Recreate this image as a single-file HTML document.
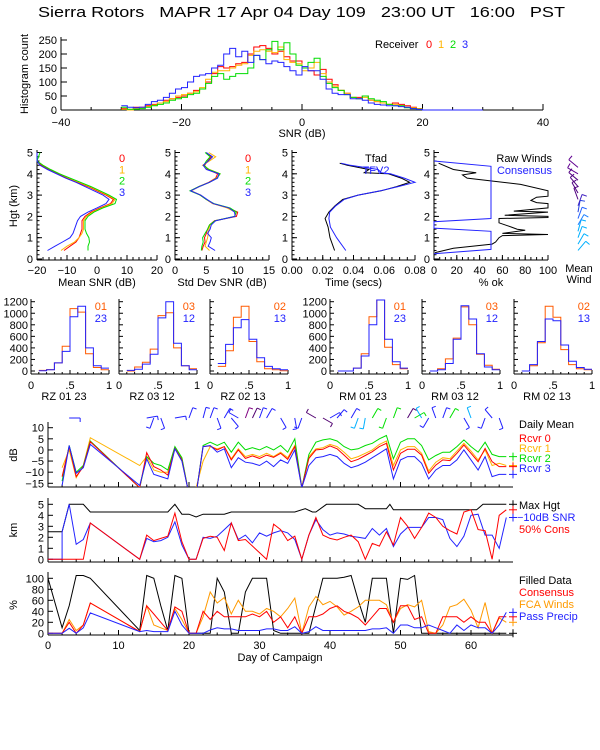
<!DOCTYPE html>
<html><head><meta charset="utf-8">
<style>
html,body{margin:0;padding:0;background:#fff;}
svg{display:block;font-family:"Liberation Sans",sans-serif;}
</style></head>
<body>
<svg id="chart" width="600" height="750" viewBox="0 0 600 750" xmlns="http://www.w3.org/2000/svg">
<rect x="0" y="0" width="600" height="750" fill="#fff"/>
<text x="38" y="17" font-size="15" style="white-space:pre" xml:space="preserve" textLength="527" lengthAdjust="spacingAndGlyphs" fill="#000">Sierra Rotors   MAPR 17 Apr 04 Day 109   23:00 UT   16:00   PST</text>
<defs>
<clipPath id="clipDb"><rect x="48" y="400" width="466" height="87"/></clipPath>
<clipPath id="clipKm"><rect x="48" y="495" width="466" height="68"/></clipPath>
<clipPath id="clipPct"><rect x="48" y="570" width="466" height="66"/></clipPath>
</defs>
</svg>
<script>
// ---------- DATA ----------
const snrBinStart = -30;
const histRed    = [5,0,10,10,15,20,25,35,40,45,50,60,70,75,100,130,155,150,155,165,170,200,225,230,220,200,210,190,175,175,150,140,125,145,110,90,70,60,45,45,50,35,30,25,20,25,20,15,10,5];
const histOrange = [3,0,5,8,12,18,25,30,40,50,55,60,65,80,110,135,140,140,150,160,165,195,210,215,210,205,225,180,170,165,140,150,170,130,100,85,70,60,45,40,45,35,30,25,20,20,15,10,8,5];
const histGreen  = [10,3,3,5,10,15,20,25,35,40,45,55,60,75,95,120,130,110,120,130,130,150,195,180,215,245,215,240,200,160,150,170,185,120,95,80,70,55,45,40,50,40,35,30,20,15,15,8,5,3];
const histBlue   = [15,10,8,10,20,30,35,45,60,75,80,100,120,125,130,150,160,200,220,190,210,170,195,180,165,175,170,155,140,125,155,140,140,110,75,60,55,55,40,40,35,25,20,18,15,15,12,10,5,2,0,0,0,0,0,0,0,0,0,0];

const profHgt = [0.4,0.6,0.8,1.0,1.2,1.4,1.6,1.8,2.0,2.2,2.4,2.6,2.8,3.0,3.2,3.4,3.6,3.8,4.0,4.2,4.4,4.6,4.8,5.0];
const snrRed    = [-11,-9,-7,-6,-5.5,-5,-5,-5,-4,-2,1,4.5,5.5,3,0,-3,-6.5,-10,-13,-16,-18.5,-20,-20,-20];
const snrOrange = [-12,-10,-7.5,-6,-5,-4.5,-4.5,-4.5,-3.5,-1.5,1.5,5,6,3.5,0.5,-2.5,-6,-9.5,-12.5,-15.5,-18,-20,-20,-20];
const snrGreen  = [-3,-3,-2.5,-2.7,-3.5,-4,-4,-4,-3,-1,2,6,6.5,4,1,-2,-5.5,-9,-12.5,-15.5,-18,-20,-19.5,-19];
const snrBlue   = [-16.5,-14,-11.5,-9,-8,-7.5,-7,-6.5,-5.5,-3,0,3,4,2,-1,-4,-7,-10.5,-13.5,-16.5,-19,-20,-20,-20];
const sdRed    = [4.3,4.5,4.8,4.7,5,5.2,5.5,6.3,9.8,10,8.5,6,5,4,2.5,3.8,5.4,6.5,6.8,5.2,4.7,5.2,5.8,5];
const sdOrange = [5.5,4.8,5,5.2,5.3,5.4,5.6,6.5,9.6,9.6,8.3,6,5,4.1,2.6,3.9,5.5,6.6,7.2,5.5,4.4,5.5,6.5,5.4];
const sdGreen  = [4.2,4.3,4.5,4.4,4.8,5.2,5.5,6.4,9.5,9.8,8.8,6.2,5,4,2.4,3.8,5.5,6.7,7.2,5.4,4.6,5,5.6,4.8];
const sdBlue   = [6.4,5.3,5.6,5.8,5.2,5.6,5.8,6.5,9.6,9.5,8.6,6.1,5.1,4.1,2.5,3.9,5.5,6.8,7,5,4.5,5.3,6,5];
const tfadHgt  = [0.4,1.0,1.5,1.9,2.2,2.5,2.8,3.0,3.2,3.4,3.6,3.8,4.0,4.05,4.2,4.4,4.5];
const tfadBlk  = [0.0277,0.0247,0.0235,0.0215,0.024,0.028,0.033,0.043,0.058,0.068,0.0765,0.071,0.0627,0.047,0.05,0.036,0.031];
const tfadBlue = [0.035,0.029,0.025,0.024,0.0245,0.0285,0.034,0.043,0.0575,0.069,0.08,0.073,0.064,0.058,0.056,0.038,0.032];
const rawHgt = [0.3,0.5,0.7,0.8,1.0,1.1,1.15,1.2,1.35,1.4,1.5,1.7,1.9,1.95,2.0,2.05,2.2,2.25,2.4,2.6,2.65,2.75,2.9,2.95,3.2,3.5,3.8,3.95,4.05,4.1,4.2,4.5];
const rawPct = [1,17,51,54,57,60,100,60,80,73,68,57,57,100,100,62,100,70,100,100,90,85,90,100,100,76,29,25,37,30,17,4];
const consHgt = [0.25,0.45,1.3,1.45,1.75,1.9,4.35,4.6];
const consPct = [0,50,50,0,0,50,50,0];

const momBins = [0.1,0.2,0.3,0.4,0.5,0.6,0.7,0.8,0.9];
const momPanels = ["RZ  01 23","RZ  03 12","RZ  02 13","RM  01 23","RM  03 12","RM  02 13"];
const momLegA = ["01","03","02","01","03","02"];
const momLegB = ["23","12","13","23","12","13"];
const momA = [
 [10,25,140,430,1080,1020,300,60,20],
 [0,70,150,380,960,1010,400,90,40],
 [80,350,930,1120,510,160,40,20,5],
 [0,0,50,300,940,1230,410,110,40],
 [0,40,210,570,1110,800,290,100,30],
 [0,90,490,1120,930,370,110,40,20]];
const momB = [
 [5,20,140,340,940,1120,400,90,50],
 [10,30,120,290,920,1200,480,90,20],
 [130,460,750,890,550,230,80,40,20],
 [0,0,50,260,800,1230,550,160,50],
 [0,20,130,550,1130,900,300,70,20],
 [0,110,510,900,870,450,170,60,30]];

const dbDays = [2,3,4,5,6,13,14,15,16,17,18,19,20,21,22,23,24,25,26,27,28,29,30,31,32,33,34,35,36,37,38,39,40,41,42,43,44,45,46,47,48,49,50,51,52,53,54,55,56,57,58,59,60,61,62,63,64,65];
const dbRed    = [-12,1.5,-12,-7.5,3.7,-17,-1.2,-7.5,-9,-11.3,0.7,-4.5,-20,-20,1.5,1.8,0,1.5,-4.5,0,-3.8,-2.7,-3.8,-2.3,-3.3,-1.5,-4.2,1.5,-17,-3.8,0,0.3,1.8,0.5,-2.3,-5.3,-4.2,-2.5,-0.8,1.5,3,-9,-1.5,0.3,0.3,-2.3,-10.5,-6.8,-4.5,-4.8,-1.5,2.2,-1.5,-5.3,0.7,-5.3,-7.5,-7.5];
const dbOrange = [-8,0,-12.5,-7,5.5,-7,-3,-9,-10,-10,1,-4,-20,-17,-5,1.5,0.5,1.5,-4,0.5,-3,-2,-3,-1.5,-3,-1,-3.5,2,-17,-3,0.5,1,2.5,1.5,-1,-4,-3,-1.5,0,2.5,4,-7,0,1.5,1.5,-1.5,-9.5,-5.5,-3.5,-4,-0.5,3,-0.5,-4.5,0,-7,-6,-7];
const dbGreen  = [-14,2,-10,-7,4,-17,-3,-6,-7,-9,1.5,-3.5,-20,-20,2,3.5,2,3.5,-1,3.5,0,1,0,1.5,0,2,-1,5,-17,-2,3.5,4.5,5,4,1.5,0,0.5,2,3,5,6.5,-4,3.5,5,5,2,-4.5,-2.5,-1,-1,1.5,4.5,1.5,-1,3.5,-2,-3,-3];
const dbBlue   = [-16,2,-10.5,-8,2.5,-16,-4,-11,-12,-13,0.5,-5,-20,-20,1.5,2,-1,0.5,-8,-3.5,-5.5,-6,-7,-5,-7.5,-4.5,-6,0,-17,-7,-3.5,-3,-2,-3,-6,-8,-7,-5.5,-3.5,-1.5,0.5,-13,-4.5,-3,-3,-6,-13,-9,-7,-7,-4.5,0,-4.5,-9,-3,-12,-11,-11];

const maxHgtDays = [0,2,3,5,6,17,18,19,20,21,22,25,26,35,36.5,37.5,38,39.5,44,45,48,48.5,49,60.8,61.7,65];
const maxHgtKm   = [2.5,2.5,5,5,4.3,4.3,5,4.1,4.1,3.85,4.1,4.1,4.3,4.3,4.6,4.3,4.3,5,5,4.6,4.6,5,4.5,4.5,5,5];
const snr10Days = [0,2,2,3,4,5,6,13,14,15,16,17,18,19,20,21,22,23,24,25,26,27,28,29,30,31,32,33,34,35,36,37,38,39,40,41,42,43,44,45,46,47,48,49,50,51,52,53,54,55,56,57,58,59,60,61,62,63,64,65];
const snr10Km   = [0,0,2.5,5,1.36,1.8,3.3,0,1.9,1.6,1.7,2,3.4,1.3,0,0,2,1.9,2.1,2.7,3.3,1.8,2.2,1.5,2.4,2.1,2.4,2.6,2.4,1.8,0,2.2,3.6,2.7,2.2,2.4,2.3,2.1,2,1.9,2.8,2.2,2.8,1.15,2.3,2.9,2.9,2.9,3.8,3.8,3.6,1.9,1.15,2.1,4.0,4.1,2.2,2.2,1,3.8];
const consDays = [0,5,6,13,14,15,16,17,18,19,20,21,22,23,24,25,26,27,28,31,32,33,34,35,36,37,38,39,40,41,42,43,44,45,46,47,48,49,50,51,52,53,54,55,56,57,58,59,60,61,62,63,64,65];
const consKm   = [0,0,3.3,0,2.2,1.7,1.9,2.1,4.2,1.6,0,0,1.9,2.1,2,0.8,3.3,1.7,1.8,0,3.2,2.7,1.7,2.1,0,2.2,3.8,2.2,1.9,1.75,2,2.2,1.6,0,1.45,1.2,2.5,1.3,3.8,3,1.9,2.9,4.2,3.8,3,2.6,2.3,4.3,4.5,2.7,2.6,0,4,4.5];

const pctDays = [0,2,3,4,5,6,13,14,15,16,17,18,19,20,21,22,23,24,25,26,27,28,29,30,31,32,33,34,35,36,37,38,39,40,41,42,43,44,45,46,47,48,49,50,51,52,53,54,55,56,57,58,59,60,61,62,63,64,65];
const pctFilled = [100,10,50,105,105,100,5,105,100,50,5,105,100,0,0,0,0,100,75,0,0,75,100,100,100,5,0,0,0,0,0,50,100,100,100,102,105,60,20,100,100,100,0,100,98,105,0,0,0,0,0,0,0,0,0,0,0,0,0];
const pctCons   = [0,0,20,0,15,55,3,50,35,20,5,48,40,0,0,40,25,40,30,30,30,30,35,30,40,20,30,10,30,0,30,30,35,45,50,40,35,28,15,30,45,45,20,50,50,25,30,0,0,30,30,30,20,30,20,20,0,30,30];
const pctFca    = [0,0,25,5,15,55,3,50,15,10,5,45,25,0,0,30,75,55,65,35,60,40,40,35,45,40,30,45,64,0,48,67,52,58,48,33,40,48,60,60,60,52,20,45,52,48,60,3,0,15,48,52,62,42,10,56,0,28,20];
const pctPrecip = [0,0,9,0,10,37,3,5,3,3,3,40,15,0,0,0,6,10,8,8,5,5,5,5,8,8,5,5,12,0,3,12,5,5,5,5,5,5,5,8,8,10,0,15,15,10,10,15,10,5,0,15,5,15,10,10,0,15,38];

const barbDays = [3,14,15,16,18,20,22,23,24,25,26,27,28,29,30,31,33,35,36,38,39,40,41,43,44,45,46,48,49,51,52,53,54,55,56,57,59,60,62,63,64];
const barbDir  = [90,80,200,160,80,20,15,20,160,30,140,300,20,25,20,30,150,170,200,300,120,60,40,30,200,190,30,200,20,30,60,330,210,340,20,30,150,340,200,320,160];
const barbCol  = ["#2020ff","#2020ff","#2020ff","#2020ff","#2020ff","#2020ff","#2020ff","#2020ff","#2020ff","#2020ff","#2020ff","#2020ff","#800080","#500070","#2020ff","#2020ff","#2020ff","#2020ff","#2020ff","#500070","#500070","#2020ff","#2020ff","#2020ff","#00b0ff","#00b0ff","#00e000","#00e000","#00e000","#500070","#00e000","#00b0ff","#2020ff","#2020ff","#2020ff","#00e000","#2020ff","#00b0ff","#2020ff","#2020ff","#2020ff"];
const mwHgt = [0.4,0.7,1.0,1.3,1.6,1.9,2.2,2.5,2.8,3.1,3.4,3.7,4.0,4.3];
const mwDir = [40,30,20,15,30,20,10,20,340,330,320,310,300,310];
const mwCol = ["#00b0ff","#00b0ff","#00b0ff","#00b0ff","#2080ff","#2060ff","#2040e0","#4020c0","#500080","#500080","#500080","#500080","#600090","#600090"];

// ---------- DRAWING ----------
const NS='http://www.w3.org/2000/svg';
const svg=document.getElementById('chart');
function mk(tag, attrs, parent){ const e=document.createElementNS(NS,tag); for(const k in attrs) e.setAttribute(k,attrs[k]); (parent||svg).appendChild(e); return e; }
function txt(x,y,s,color,anchor,size,name){
  const t=mk('text',{x:x,y:y,fill:color||'#000','text-anchor':anchor||'middle','font-size':size||11});
  t.textContent=s;
  
  
  return t;
}
function ln(x1,y1,x2,y2,color,name){
  const l=mk('line',{x1:x1,y1:y1,x2:x2,y2:y2,stroke:color||'#000','stroke-width':1});
  
  
  return l;
}
function poly(pts,color,name,clip){
  const p=mk('polyline',{points:pts.map(q=>q[0].toFixed(1)+','+q[1].toFixed(1)).join(' '),fill:'none',stroke:color,'stroke-width':1});
  if(clip) p.setAttribute('clip-path','url(#'+clip+')');
  
  
  return p;
}
function lin(d0,d1,p0,p1){ return v=>p0+(v-d0)*(p1-p0)/(d1-d0); }

(function(){
  const X=lin(-40,40,61,543), Y=lin(0,250,110,40);
  ln(61,37,61,110,'#000','hist-y-axis');
  ln(61,110,543,110,'#000','hist-x-axis');
  [0,50,100,150,200,250].forEach(v=>{ ln(61,Y(v),67,Y(v),'#000','hist-y-tick'); txt(57,Y(v)+4,String(v),'#000','end',11,'hist-y-tick-label'); });
  for(let v=-40;v<=40;v+=5){ const big=v%20===0; ln(X(v),110,X(v),big?104:107,'#000','hist-x-tick'); if(big) txt(X(v),126,String(v).replace('-','\u2212'),'#000','middle',11,'hist-x-tick-label'); }
  txt(302,137,'SNR (dB)','#000','middle',11,'hist-x-title');
  const t=txt(0,0,'Histogram count','#000','middle',11,'hist-y-title'); t.setAttribute('transform','translate(28,74) rotate(-90)');
  function step(arr,color,name){
    const pts=[];
    arr.forEach((v,i)=>{ const e=snrBinStart+i; pts.push([X(e),Y(v)]); pts.push([X(e+1),Y(v)]); });
    poly(pts,color,name);
  }
  step(histRed,'#ff0000','hist-series-rcvr0');
  step(histOrange,'#ffb400','hist-series-rcvr1');
  step(histGreen,'#00dd00','hist-series-rcvr2');
  step(histBlue,'#2222ff','hist-series-rcvr3');
  txt(375,48,'Receiver','#000','start',11,'hist-legend-title');
  txt(429,48,'0','#ff0000','middle',11,'hist-legend-0');
  txt(441,48,'1','#ffb400','middle',11,'hist-legend-1');
  txt(453,48,'2','#00dd00','middle',11,'hist-legend-2');
  txt(465,48,'3','#2222ff','middle',11,'hist-legend-3');
})();

const HY=lin(0,5,259,152.5);
function profAxes(x0,x1,xmin,xmax,ticks,labels,minor,title,name){
  const X=lin(xmin,xmax,x0,x1);
  ln(x0,150,x0,260,'#000',name+'-y-axis');
  ln(x0,260,x1,260,'#000',name+'-x-axis');
  for(let h=0;h<=5;h++){ ln(x0,HY(h),x0+5,HY(h),'#000',name+'-y-tick'); txt(x0-4,HY(h)+4,String(h),'#000','end',11,name+'-y-tick-label'); }
  for(let h=0.2;h<5;h+=0.2){ ln(x0,HY(h),x0+2.5,HY(h),'#000',name+'-y-minor-tick'); }
  for(let v=xmin;v<=xmax+1e-9;v+=minor){ ln(X(v),260,X(v),257,'#000',name+'-x-minor-tick'); }
  ticks.forEach((v,i)=>{ ln(X(v),260,X(v),255,'#000',name+'-x-tick'); txt(X(v),274,labels[i],'#000','middle',11,name+'-x-tick-label'); });
  txt((x0+x1)/2,286,title,'#000','middle',11,name+'-x-title');
  return X;
}
(function(){
  const t=txt(0,0,'Hgt (km)','#000','middle',11,'profile-y-title'); t.setAttribute('transform','translate(17,206) rotate(-90)');
  let X=profAxes(37,157,-20,20,[-20,-10,0,10,20],['\u221220','\u221210','0','10','20'],2,'Mean SNR (dB)','mean-snr-panel');
  [[snrRed,'#ff0000'],[snrOrange,'#ffb400'],[snrGreen,'#00dd00'],[snrBlue,'#2222ff']].forEach((s,i)=>poly(profHgt.map((h,j)=>[X(s[0][j]),HY(h)]),s[1],'mean-snr-rcvr'+i));
  ['0','1','2','3'].forEach((s,i)=>txt(122,162+i*11.3,s,['#ff0000','#ffb400','#00dd00','#2222ff'][i],'middle',11,'mean-snr-legend-'+s));
  X=profAxes(175,269,0,15,[0,5,10,15],['0','5','10','15'],1,'Std Dev SNR (dB)','std-snr-panel');
  [[sdRed,'#ff0000'],[sdOrange,'#ffb400'],[sdGreen,'#00dd00'],[sdBlue,'#2222ff']].forEach((s,i)=>poly(profHgt.map((h,j)=>[X(s[0][j]),HY(h)]),s[1],'std-snr-rcvr'+i));
  ['0','1','2','3'].forEach((s,i)=>txt(248,162+i*11.3,s,['#ff0000','#ffb400','#00dd00','#2222ff'][i],'middle',11,'std-snr-legend-'+s));
  X=profAxes(292,415,0,0.08,[0,0.02,0.04,0.06,0.08],['0.00','0.02','0.04','0.06','0.08'],0.005,'Time (secs)','time-panel');
  poly(tfadHgt.map((h,j)=>[X(tfadBlk[j]),HY(h)]),'#000','tfad-series');
  poly(tfadHgt.map((h,j)=>[X(tfadBlue[j]),HY(h)]),'#2222ff','tfv2-series');
  txt(376,162,'Tfad','#000','middle',11,'tfad-legend');
  txt(376,174,'TFV2','#2222ff','middle',11,'tfv2-legend');
  X=profAxes(434,548,0,100,[0,20,40,60,80,100],['0','20','40','60','80','100'],5,'% ok','pct-ok-panel');
  poly(rawHgt.map((h,j)=>[X(rawPct[j]),HY(h)]),'#000','raw-winds-series');
  poly(consHgt.map((h,j)=>[X(consPct[j]),HY(h)]),'#2222ff','consensus-pct-series');
  txt(552,162,'Raw Winds','#000','end',11,'raw-winds-legend');
  txt(552,174,'Consensus','#2222ff','end',11,'consensus-legend');
  mwHgt.forEach((h,i)=>{
    const a=mwDir[i]*Math.PI/180, cx=578, cy=HY(h);
    ln(cx,cy,cx+12*Math.sin(a),cy-12*Math.cos(a),mwCol[i],'mean-wind-barb');
    ln(cx+12*Math.sin(a),cy-12*Math.cos(a),cx+12*Math.sin(a)+5*Math.cos(a),cy-12*Math.cos(a)+5*Math.sin(a),mwCol[i],'mean-wind-barb-flag');
  });
  txt(579,272,'Mean','#000','middle',11,'mean-wind-label');
  txt(579,283,'Wind','#000','middle',11,'mean-wind-label-2');
})();

(function(){
  const lefts=[31,119,210,330,422,514], W=78;
  const Y=lin(0,1200,371,301.7);
  lefts.forEach((x0,p)=>{
    const X=lin(0,1,x0,x0+W), nm='moment-hist-'+(p+1);
    ln(x0,299,x0,374,'#000',nm+'-y-axis');
    ln(x0,374,x0+W,374,'#000',nm+'-x-axis');
    for(let v=0;v<=1200;v+=100){ ln(x0,Y(v),x0+(v%200===0?4:2),Y(v),'#000',nm+'-y-tick'); }
    if(p===0||p===3){ [0,200,400,600,800,1000,1200].forEach(v=>txt(x0-3,Y(v)+4,String(v),'#000','end',11,nm+'-y-tick-label')); }
    [[0,'0'],[0.5,'.5'],[1,'1']].forEach(t=>{ ln(X(t[0]),374,X(t[0]),370,'#000',nm+'-x-tick'); txt(X(t[0]),389,t[1],'#000','middle',11,nm+'-x-tick-label'); });
    for(let v=0.1;v<1;v+=0.1) ln(X(v),374,X(v),372,'#000',nm+'-x-minor-tick');
    function step(arr,color,name){ const pts=[]; arr.forEach((v,i)=>{ pts.push([X(momBins[i]),Y(v)]); pts.push([X(momBins[i]+0.1),Y(v)]); }); poly(pts,color,name); }
    step(momA[p],'#ff5a00',nm+'-series-a');
    step(momB[p],'#2222ff',nm+'-series-b');
    txt(x0+W-2,310,momLegA[p],'#ff5a00','end',11,nm+'-legend-a');
    txt(x0+W-2,322,momLegB[p],'#2222ff','end',11,nm+'-legend-b');
    txt(x0+W/2-6,400,momPanels[p],'#000','middle',11,nm+'-title');
  });
})();

const DX=lin(0,60,48,471);
function tsAxes(yBottom,yTop,name,labels){
  ln(48,yTop,48,yBottom,'#000',name+'-y-axis');
  ln(48,yBottom,513,yBottom,'#000',name+'-x-axis');
  for(let d=0;d<=65;d+=2){ ln(DX(d),yBottom,DX(d),yBottom-(d%10===0?5:2.5),'#000',name+'-x-tick'); }
  if(labels){ for(let d=0;d<=60;d+=10) txt(DX(d),649,String(d),'#000','middle',11,name+'-x-tick-label'); }
}
(function(){
  const Y=lin(-15,10,483.3,427.7);
  tsAxes(487,422,'daily-mean-panel',false);
  [10,5,0,-5,-10,-15].forEach(v=>{ ln(48,Y(v),53,Y(v),'#000','daily-mean-y-tick'); txt(44,Y(v)+4,String(v).replace('-','\u2212'),'#000','end',11,'daily-mean-y-tick-label'); });
  const t=txt(0,0,'dB','#000','middle',11,'daily-mean-y-title'); t.setAttribute('transform','translate(17,455) rotate(-90)');
  const ser=[[dbOrange,'#ffb400'],[dbGreen,'#00dd00'],[dbRed,'#ff0000'],[dbBlue,'#2222ff']];
  ser.forEach((s,i)=>{ poly(dbDays.map((d,j)=>[DX(d),Y(s[0][j])]),s[1],'daily-mean-series-'+i,'clipDb'); const last=s[0][s[0].length-1]; ln(509,Y(last),517,Y(last),s[1],'daily-mean-end-marker'); ln(513,Y(last)-4,513,Y(last)+4,s[1],'daily-mean-end-marker-v'); });
  txt(519,428,'Daily Mean','#000','start',11,'daily-mean-legend-title');
  [['Rcvr 0','#ff0000'],['Rcvr 1','#ffb400'],['Rcvr 2','#00dd00'],['Rcvr 3','#2222ff']].forEach((s,i)=>txt(519,442+i*10,s[0],s[1],'start',11,'daily-mean-legend-rcvr'+i));
  barbDays.forEach((d,i)=>{
    const a=barbDir[i]*Math.PI/180, cx=DX(d), cy=418;
    ln(cx,cy,cx+11*Math.sin(a),cy-11*Math.cos(a),barbCol[i],'wind-barb');
    ln(cx+11*Math.sin(a),cy-11*Math.cos(a),cx+11*Math.sin(a)+4*Math.cos(a),cy-11*Math.cos(a)+4*Math.sin(a),barbCol[i],'wind-barb-flag');
  });
  const K=lin(0,5,559.3,504.3);
  tsAxes(562,498,'height-panel',false);
  [0,1,2,3,4,5].forEach(v=>{ ln(48,K(v),53,K(v),'#000','height-y-tick'); txt(44,K(v)+4,String(v),'#000','end',11,'height-y-tick-label'); });
  const t2=txt(0,0,'km','#000','middle',11,'height-y-title'); t2.setAttribute('transform','translate(17,530) rotate(-90)');
  poly(maxHgtDays.map((d,j)=>[DX(d),K(maxHgtKm[j])]),'#000','max-hgt-series','clipKm');
  poly(snr10Days.map((d,j)=>[DX(d),K(snr10Km[j])]),'#2222ff','snr10-series','clipKm');
  poly(consDays.map((d,j)=>[DX(d),K(consKm[j])]),'#ff0000','cons50-series','clipKm');
  [[maxHgtKm,'#000'],[snr10Km,'#2222ff'],[consKm,'#ff0000']].forEach(s=>{ const v=s[0][s[0].length-1]; ln(509,K(v),517,K(v),s[1],'height-end-marker'); ln(513,K(v)-4,513,K(v)+4,s[1],'height-end-marker-v'); });
  txt(519,509,'Max Hgt','#000','start',11,'max-hgt-legend');
  txt(517,521,'\u221210dB SNR','#2222ff','start',11,'snr10-legend');
  txt(519,533,'50% Cons','#ff0000','start',11,'cons50-legend');
  const P=lin(0,100,633.3,578.3);
  tsAxes(635,572,'percent-panel',true);
  [0,20,40,60,80,100].forEach(v=>{ ln(48,P(v),53,P(v),'#000','percent-y-tick'); txt(44,P(v)+4,String(v),'#000','end',11,'percent-y-tick-label'); });
  const t3=txt(0,0,'%','#000','middle',11,'percent-y-title'); t3.setAttribute('transform','translate(17,605) rotate(-90)');
  [[pctFilled,'#000','filled-data-series'],[pctFca,'#ff9a00','fca-winds-series'],[pctCons,'#ff0000','consensus-series'],[pctPrecip,'#2222ff','pass-precip-series']].forEach(s=>{
    poly(pctDays.map((d,j)=>[DX(d),P(s[0][j])]),s[1],s[2],'clipPct');
    const v=s[0][s[0].length-1]; ln(509,P(v),517,P(v),s[1],s[2]+'-end-marker'); ln(513,P(v)-4,513,P(v)+4,s[1],s[2]+'-end-marker-v');
  });
  txt(519,584,'Filled Data','#000','start',11,'filled-data-legend');
  txt(519,596,'Consensus','#ff0000','start',11,'consensus-pct-legend');
  txt(519,608,'FCA Winds','#ff9a00','start',11,'fca-winds-legend');
  txt(519,620,'Pass Precip','#2222ff','start',11,'pass-precip-legend');
  txt(280,661,'Day of Campaign','#000','middle',11,'day-axis-title');
})();
</script>
</body></html>
